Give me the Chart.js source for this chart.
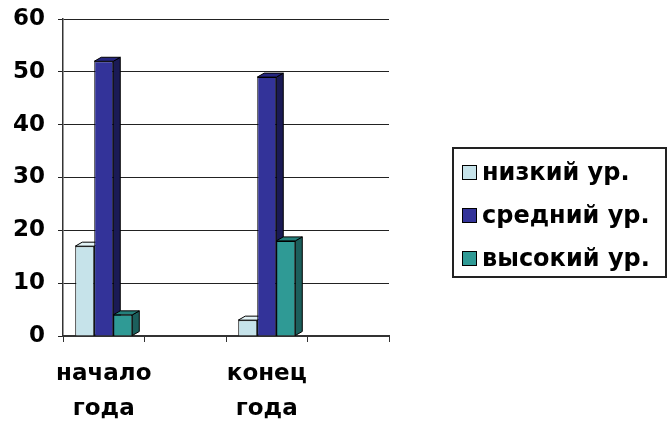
<!DOCTYPE html>
<html>
<head>
<meta charset="utf-8">
<script src="https://cdn.jsdelivr.net/npm/chart.js@4"></script>
<style>
  body { margin: 0; background: #fff; }
  #wrap { position: relative; width: 667px; height: 421px; overflow: hidden; }
  #legend {
    position: absolute; left: 452px; top: 147px; width: 215px; height: 131px;
    border: 2px solid #222; box-sizing: border-box;
    font: bold 24px "DejaVu Sans", sans-serif; color: #000;
  }
  #legend div { position: absolute; left: 8px; height: 24px; line-height: 24px; white-space: nowrap; }
  #legend span { display: inline-block; width: 13px; height: 13px; border: 1.5px solid #000; margin-right: 5px; vertical-align: 0px; }
</style>
</head>
<body>
<div id="wrap">
  <canvas id="chart" width="667" height="421"></canvas>
  <div id="legend"></div>
</div>
<script>
const categories = [['начало', 'года'], '', ['конец', 'года'], ''];
const seriesNames = ['низкий ур.', 'средний ур.', 'высокий ур.'];
const lowValues = [17, null, 3, null];
const midValues = [52, null, 49, null];
const highValues = [4, null, 18, null];
const yTicks = [0, 10, 20, 30, 40, 50, 60];

const fronts = ['#c6e3ea', '#333399', '#2f9a95'];
const sides = ['#8fb3bb', '#1a1a55', '#1c5f5c'];
const tops = ['#e2f3f6', '#262680', '#24807b'];

// fake 3d: side and top faces behind the front faces
const bars3d = {
  id: 'bars3d',
  beforeDatasetsDraw(chart) {
    const ctx = chart.ctx;
    const dx = 7, dy = 4;
    chart.data.datasets.forEach((ds, i) => {
      chart.getDatasetMeta(i).data.forEach((bar, j) => {
        if (ds.data[j] == null) return;
        const l = bar.x - bar.width / 2, r = bar.x + bar.width / 2;
        ctx.save();
        ctx.strokeStyle = '#000';
        ctx.lineWidth = 1;
        ctx.fillStyle = sides[i];
        ctx.beginPath();
        ctx.moveTo(r, bar.y); ctx.lineTo(r + dx, bar.y - dy);
        ctx.lineTo(r + dx, bar.base - dy); ctx.lineTo(r, bar.base);
        ctx.closePath(); ctx.fill(); ctx.stroke();
        ctx.fillStyle = tops[i];
        ctx.beginPath();
        ctx.moveTo(l, bar.y); ctx.lineTo(l + dx, bar.y - dy);
        ctx.lineTo(r + dx, bar.y - dy); ctx.lineTo(r, bar.y);
        ctx.closePath(); ctx.fill(); ctx.stroke();
        ctx.restore();
      });
    });
  }
};

const font = { family: '"DejaVu Sans", sans-serif', size: 23, weight: 'bold' };

const chart = new Chart(document.getElementById('chart'), {
  type: 'bar',
  data: {
    labels: categories,
    datasets: [
      { label: seriesNames[0], data: lowValues, backgroundColor: fronts[0] },
      { label: seriesNames[1], data: midValues, backgroundColor: fronts[1] },
      { label: seriesNames[2], data: highValues, backgroundColor: fronts[2] }
    ]
  },
  options: {
    responsive: false,
    animation: false,
    layout: { padding: { left: 8, right: 278, top: 19, bottom: 0 } },
    datasets: { bar: { borderColor: '#000', borderWidth: 1, categoryPercentage: 0.7, barPercentage: 1 } },
    plugins: { legend: { display: false }, tooltip: { enabled: false } },
    scales: {
      x: {
        grid: { drawOnChartArea: false, color: '#333', tickLength: 6 },
        border: { color: '#333', width: 2 },
        ticks: { color: '#000', font: { ...font, lineHeight: 1.52 }, maxRotation: 0, autoSkip: false, padding: 15 },
        afterFit(s) { s.height = 85; s.paddingLeft = 0; s.paddingRight = 0; }
      },
      y: {
        min: 0, max: 60,
        afterBuildTicks(s) { s.ticks = yTicks.map(v => ({ value: v })); },
        grid: { color: '#222', tickLength: 5 },
        border: { color: '#333', width: 1.5 },
        ticks: { color: '#000', font: font, padding: 13 },
        afterFit(s) { s.width = 55; s.paddingTop = 0; s.paddingBottom = 0; }
      }
    }
  },
  plugins: [bars3d]
});

const legend = document.getElementById('legend');
chart.data.datasets.forEach((ds, i) => {
  const row = document.createElement('div');
  row.style.top = (11 + i * 43) + 'px';
  row.innerHTML = '<span style="background:' + ds.backgroundColor + '"></span>' + ds.label;
  legend.appendChild(row);
});
</script>
</body>
</html>
